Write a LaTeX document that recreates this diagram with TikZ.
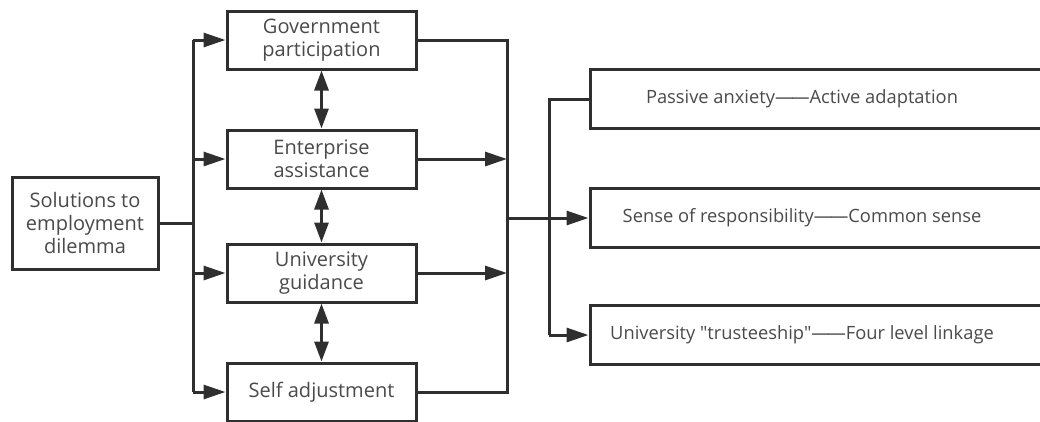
\documentclass[tikz,border=0pt]{standalone}
\usepackage{fontspec}
\newfontfamily\boxfont{Open Sans}
\usetikzlibrary{arrows.meta}
\definecolor{linec}{HTML}{2F2F2F}
\definecolor{textc}{HTML}{4A4A4A}
\newcommand{\dd}{—\kern-2pt—}
\begin{document}
\begin{tikzpicture}[x=1pt,y=-1pt,
  box/.style={draw=linec, line width=3pt, fill=white, text=textc, align=center,
    font=\boxfont\fontsize{20}{23}\selectfont, inner sep=0pt, minimum height=58pt},
  mid/.style={box, minimum width=189pt},
  wide/.style={box, minimum width=470pt, minimum height=59pt, font=\boxfont\fontsize{18.3}{23}\selectfont},
  conn/.style={draw=linec, line width=3pt},
  arr/.style={conn, -{Triangle[length=22pt,width=14pt]}},
  darr/.style={conn, {Triangle[length=20pt,width=14pt]}-{Triangle[length=20pt,width=14pt]}}]
\useasboundingbox (0,0) rectangle (1040,421);
\clip (0,0) rectangle (1040,421);

\node[box, minimum width=146pt, minimum height=92pt] (sol) at (85,223) {Solutions to\\employment\\dilemma};
\node[mid] (gov) at (321.5,40) {Government\\participation};
\node[mid] (ent) at (321.5,159) {Enterprise\\assistance};
\node[mid] (uni) at (321.5,273) {University\\guidance};
\node[mid] (self) at (321.5,392) {Self adjustment};

\node[wide] (r1) at (825,99) {\hspace*{-46pt}Passive anxiety\dd Active adaptation};
\node[wide] (r2) at (825,218) {\hspace*{-46pt}Sense of responsibility\dd Common sense};
\node[wide] (r3) at (825,335) {\hspace*{-46pt}University "trusteeship"\dd Four level linkage};

\coordinate (lt) at (193,40);
\coordinate (lb) at (193,392);
\coordinate (rt) at (507,40);
\coordinate (rb) at (507,392);
\coordinate (bt) at (549,99);
\coordinate (bb) at (549,335);

% left bus
\draw[conn] (sol.east) -- (sol.east -| lt);
\draw[conn] (lt) -- (lb);
\draw[arr] (lt) -- (gov.west);
\draw[arr] (ent.west -| lt) -- (ent.west);
\draw[arr] (uni.west -| lt) -- (uni.west);
\draw[arr] (lb) -- (self.west);

% mutual links
\draw[darr] (gov.south) -- (ent.north);
\draw[darr] (ent.south) -- (uni.north);
\draw[darr] (uni.south) -- (self.north);

% right bus
\draw[conn] (gov.east) -- (rt) -- (rb) -- (self.east);
\draw[arr] (ent.east) -- (ent.east -| rt);
\draw[arr] (uni.east) -- (uni.east -| rt);

% outcomes
\draw[arr] (r2.west -| rt) -- (r2.west);
\draw[conn] (r1.west) -- (bt) -- (bb);
\draw[arr] (bb) -- (r3.west);
\end{tikzpicture}
\end{document}
